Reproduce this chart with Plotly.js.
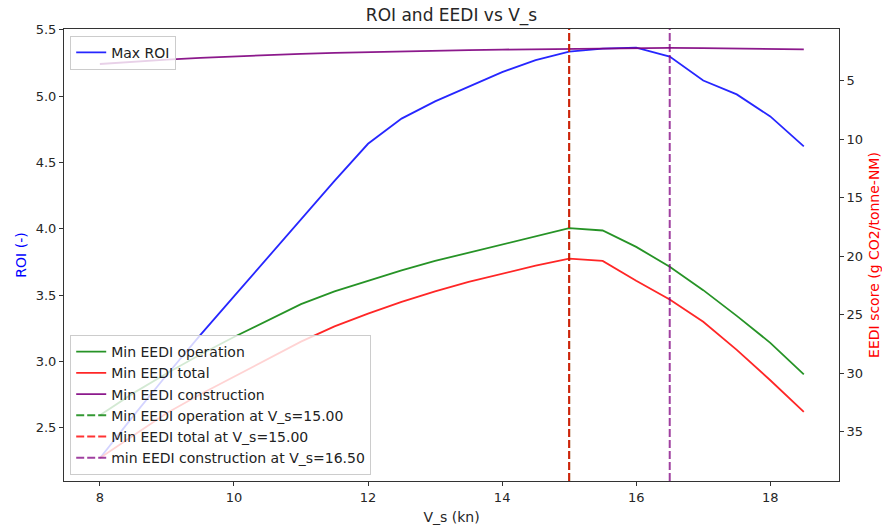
<!DOCTYPE html>
<html>
<head>
<meta charset="utf-8">
<script src="https://cdn.plot.ly/plotly-3.0.1.min.js"></script>
<style>html,body{margin:0;padding:0;background:#fff;}#chart{width:882px;height:531px;}</style>
</head>
<body>
<div id="chart"></div>
<script>
// ---- data ----
const Vs = [8, 8.5, 9, 9.5, 10, 10.5, 11, 11.5, 12, 12.5, 13, 13.5, 14, 14.5, 15, 15.5, 16, 16.5, 17, 17.5, 18, 18.5];
const maxROI = [2.27, 2.59, 2.90, 3.20, 3.49, 3.78, 4.07, 4.36, 4.64, 4.83, 4.96, 5.07, 5.18, 5.27, 5.335, 5.357, 5.365, 5.297, 5.117, 5.012, 4.846, 4.621];
const eediOperation = [33.6, 31.7, 30.0, 28.4, 26.9, 25.5, 24.1, 23.0, 22.1, 21.2, 20.4, 19.7, 19.0, 18.3, 17.6, 17.8, 19.2, 20.9, 22.9, 25.1, 27.4, 30.1];
const eediTotal = [37.25, 35.3, 33.4, 31.8, 30.3, 28.8, 27.3, 26.0, 24.9, 23.9, 23.0, 22.2, 21.5, 20.8, 20.2, 20.4, 22.1, 23.7, 25.6, 28.0, 30.6, 33.3];
const eediConstruction = [3.57, 3.37, 3.20, 3.05, 2.92, 2.81, 2.70, 2.62, 2.55, 2.48, 2.43, 2.38, 2.34, 2.30, 2.27, 2.24, 2.20, 2.19, 2.21, 2.25, 2.28, 2.32];
const xTicks = [8, 10, 12, 14, 16, 18];
const roiTicks = [2.5, 3.0, 3.5, 4.0, 4.5, 5.0, 5.5];
const eediTicks = [5, 10, 15, 20, 25, 30, 35];

// ---- helpers ----
function argminV(arr) { let k = 0; arr.forEach((v, i) => { if (v < arr[k]) k = i; }); return Vs[k]; }
const vOp = argminV(eediOperation);
const vTot = argminV(eediTotal);
const vCon = argminV(eediConstruction);

const xRange = [7.465, 19.025];
const yRange = [2.099, 5.505];
const y2Range = [39.21, 0.58];

const FONT = 'DejaVu Sans, Liberation Sans, sans-serif';

const traces = [
  {x: Vs, y: maxROI, type: 'scatter', mode: 'lines', name: 'Max ROI',
   line: {color: 'rgba(0,0,255,0.85)', width: 1.8}, legend: 'legend', yaxis: 'y'},
  {x: Vs, y: eediOperation, type: 'scatter', mode: 'lines', name: 'Min EEDI operation',
   line: {color: 'rgba(0,128,0,0.85)', width: 1.8}, legend: 'legend2', legendgroup: 'a', yaxis: 'y2'},
  {x: Vs, y: eediTotal, type: 'scatter', mode: 'lines', name: 'Min EEDI total',
   line: {color: 'rgba(255,0,0,0.85)', width: 1.8}, legend: 'legend2', legendgroup: 'b', yaxis: 'y2'},
  {x: Vs, y: eediConstruction, type: 'scatter', mode: 'lines', name: 'Min EEDI construction',
   line: {color: 'rgba(128,0,128,0.9)', width: 1.8}, legend: 'legend2', legendgroup: 'c', yaxis: 'y2'},
  {x: [vOp, vOp], y: y2Range, type: 'scatter', mode: 'lines', name: 'Min EEDI operation at V_s=' + vOp.toFixed(2),
   line: {color: 'rgba(0,128,0,0.8)', width: 2, dash: '8px,3px'}, legend: 'legend2', legendgroup: 'd', yaxis: 'y2'},
  {x: [vTot, vTot], y: y2Range, type: 'scatter', mode: 'lines', name: 'Min EEDI total at V_s=' + vTot.toFixed(2),
   line: {color: 'rgba(255,0,0,0.8)', width: 2, dash: '8px,3px'}, legend: 'legend2', legendgroup: 'e', yaxis: 'y2'},
  {x: [vCon, vCon], y: y2Range, type: 'scatter', mode: 'lines', name: 'min EEDI construction at V_s=' + vCon.toFixed(2),
   line: {color: 'rgba(128,0,128,0.75)', width: 2, dash: '8px,3px'}, legend: 'legend2', legendgroup: 'f', yaxis: 'y2'}
];

const tickFont = {family: FONT, size: 13, color: '#262626'};
const legendFont = {family: FONT, size: 14, color: '#222'};

const layout = {
  width: 882, height: 531,
  margin: {l: 64, r: 43, t: 29, b: 50},
  paper_bgcolor: '#fff', plot_bgcolor: '#fff',
  font: {family: FONT, size: 13, color: '#262626'},
  title: {text: 'ROI and EEDI vs V_s', x: 0.5, xref: 'paper', xanchor: 'center',
          y: 1 - 15 / 531, yref: 'container', yanchor: 'middle',
          font: {family: FONT, size: 17, color: '#262626'}},
  showlegend: true,
  xaxis: {range: xRange, autorange: false, tickvals: xTicks, ticks: 'outside', ticklen: 4, tickwidth: 1,
          tickcolor: '#333', showline: true, linecolor: '#333', linewidth: 1, mirror: true,
          showgrid: false, zeroline: false, tickfont: tickFont,
          title: {text: 'V_s (kn)', font: {family: FONT, size: 14, color: '#262626'}, standoff: 8}},
  yaxis: {range: yRange, autorange: false, tickvals: roiTicks, tickformat: '.1f', ticks: 'outside', ticklen: 4,
          tickwidth: 1, tickcolor: '#333', showline: true, linecolor: '#333', linewidth: 1,
          showgrid: false, zeroline: false, tickfont: tickFont,
          title: {text: 'ROI (-)', font: {family: FONT, size: 14, color: 'blue'}}},
  yaxis2: {range: y2Range, autorange: false, overlaying: 'y', side: 'right', tickvals: eediTicks,
           ticks: 'outside', ticklen: 4, tickwidth: 1, tickcolor: '#333', showline: true, linecolor: '#333',
           linewidth: 1, showgrid: false, zeroline: false, tickfont: tickFont,
           title: {text: 'EEDI score (g CO2/tonne-NM)', font: {family: FONT, size: 14, color: 'red'}}},
  legend: {x: 0.008, y: 0.985, xanchor: 'left', yanchor: 'top', bgcolor: 'rgba(255,255,255,0.8)',
           bordercolor: '#cccccc', borderwidth: 1, font: legendFont},
  legend2: {x: 0.008, y: 0.013, xanchor: 'left', yanchor: 'bottom', bgcolor: 'rgba(255,255,255,0.8)',
            bordercolor: '#cccccc', borderwidth: 1, font: legendFont, tracegroupgap: 0, traceorder: 'grouped'}
};

Plotly.newPlot('chart', traces, layout, {staticPlot: true, displayModeBar: false});
</script>
</body>
</html>
